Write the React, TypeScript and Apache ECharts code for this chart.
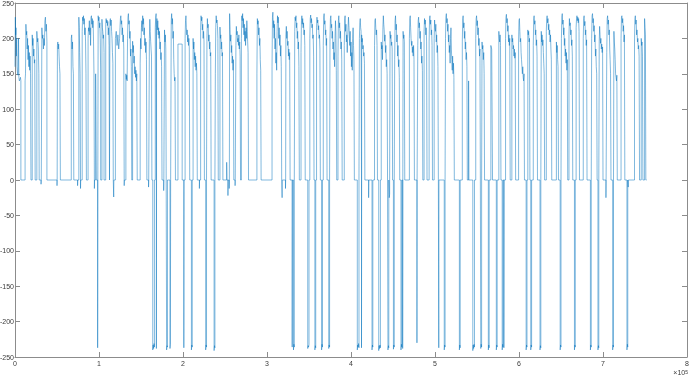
import React, { useEffect, useRef } from "react";
import * as echarts from "echarts";

// x in thousands of samples, y signal value
const seg0: number[][] = [
  [0,160],[0.4,230],[0.8,205],[1.2,215],[1.6,175],[2,200],[2.4,160],[3,150],[3.6,148],[4.2,200],[4.6,145],[5.2,140],[5.8,142],[6.5,145],[7,140],[7,0],
  [12,0],[12,140],[12.5,150],[13,220],[13.5,205],[14,210],[14.5,185],[15,200],[15.5,170],[16,190],[16.5,160],[17,180],[17.5,155],[18,175],[18.5,150],[19,0],
  [20.5,0],[20.5,205],[21,190],[21.5,200],[22,175],[22.5,185],[23,165],[23.5,170],[24,0],
  [26,0],[26,210],[26.6,195],[27.2,200],[27.8,185],[28.4,150],[28.8,0],
  [31,0],[31,-6],[31.3,0],
  [32,0],[32,215],[32.6,200],[33.2,205],[33.8,185],[34.4,200],[35,190],[35.6,225],[36.2,230],[36.8,210],[37.4,220],[38,195],[38,0],
  [50,0],[50,-8],[50.2,0],[50.5,0],[50.5,190],[51,195],[51.5,185],[52,192],[52.5,175],[53,160],[53.5,150],[54,0],
  [67,0],[67,200],[67.5,205],[68,185],[68.5,195],[69,160],[69.5,150],[70,0],
  [74.5,0],[74.5,-8],[74.7,0],[76,0],[76,230],[76.5,215],[77,180],[77.5,150],[78,0],[78,-12],[78.2,0],[80,0],[80,210],[80.5,230],[81,225],[81.5,232],[82,220],[82.5,228],[83,205],[83.5,215],[84,195],[84.5,150],[85,0],
  [87,0],[87,200],[87.5,215],[88,210],[88.5,225],[89,205],[89.5,215],[90,190],[90.5,230],[91,232],[91.5,220],[92,228],[92.5,215],[93,225],[93.5,195],[94,150],[94.5,0],[94.5,-12],[94.7,0],
  [96,0],[96,150],[96.8,150],[96.8,0],[98.4,0],[98.4,-237],[98.6,0],
  [99,0],[99,232],[99.5,225],[100,230],[100.5,215],[101,222],[101.5,200],[102,150],[102,0],
];

const seg1: number[][] = [
  [103.5,0],[103.5,227],[104,215],[104.5,210],[105,200],[105.5,205],[106,180],[106,0],
  [108,0],[108,220],[108.5,228],[109,222],[109.5,226],[110,218],[110.5,224],[111,205],[111.5,215],[112,190],[112.5,0],
  [113,0],[113,224],[113.5,228],[114,218],[114.5,226],[115,210],[115.5,200],[116,180],[116.5,165],[117,0],[117.5,0],[117.5,-24],[117.7,0],
  [119.5,0],[119.5,200],[120.5,210],[121.5,190],[122.5,205],[123.5,185],[124.5,200],[125,215],[125.5,228],[126,232],[126.5,220],[127,225],[127.5,205],[128,215],[128.5,195],[129,205],[129.5,185],[130,0],[130,-8],[130.2,0],
  [132,0],[132,150],[132.5,142],[133,148],[133.5,140],[134,200],[134.5,230],[135,235],[135.5,220],[136,225],[136.5,200],[137,210],[137.5,175],[138,185],[138.5,160],[139,0],
  [140,0],[140,196],[140.5,180],[141,190],[141.5,165],[142,175],[142.5,150],[143,160],[143.5,145],[144,155],[144.5,140],[145,150],[145.5,0],
  [149,0],[149,165],[149.5,200],[150,185],[150.5,215],[151,225],[151.5,210],[152,232],[152.5,220],[153,228],[153.5,205],[154,215],[154.5,190],[155,200],[155.5,180],[156,195],[156.5,170],[157,0],
  [159,0],[159,-10],[159.2,0],
  [160,0],[160,200],[160.5,227],[161,210],[161.5,196],[162,185],[162.5,175],[163,0],
  [164,0],[164,-240],[164.5,-233],[165,-238],[165.5,-231],[166,-236],[166,0],
  [167,0],[167,215],[167.5,230],[168,235],[168.3,0],[168.3,-238],[168.5,0],[168.5,220],[169,228],[169.5,212],[170,225],[170.5,205],[171,215],[171.5,200],[172,210],[172.5,185],[173,195],[173.5,170],[174,180],[174.5,160],[175,0],
  [177,0],[177,-15],[177.2,0],[178,0],[178,212],[178.5,195],[179,205],[179.5,185],[180,0],
  [180.5,0],[180.5,-240],[181,-234],[181.5,-236],[181.5,0],
  [184.5,0],[184.5,-238],[185,-232],[185.3,0],[186,0],[186,225],[186.5,235],[187,220],[187.5,228],[188,200],[188.5,210],[189,170],[189.5,150],[190,140],[190.5,145],[191,0],
  [194,0],[194,192],[199,192],[199,0],
  [201,0],[201,-237],[201.2,0],
];

const seg2: number[][] = [
  [202.5,0],[202.5,200],[203,225],[203.5,232],[204,215],[204.5,205],[205,212],[205.5,195],[206,205],[206.5,190],[207,200],[207.5,185],[208,0],
  [210,0],[210,-240],[210.5,-233],[211,-236],[211,0],
  [212,0],[212,200],[212.5,185],[213,195],[213.5,170],[214,180],[214.5,160],[215,175],[215.5,155],[216,165],[216.5,150],[217,0],
  [219.5,0],[219.5,-12],[219.7,0],
  [221,0],[221,215],[221.5,232],[222,225],[222.5,230],[223,212],[223.5,220],[224,200],[224.5,210],[225,195],[225.5,0],
  [227,0],[227,-240],[227.5,-233],[228,-236],[228,0],[228.5,0],[228.5,200],[229,228],[229.5,215],[230,220],[230.5,196],[231,205],[231.5,185],[232,195],[232.5,175],[233,180],[233.5,0],
  [237,0],[237,-241],[237.5,-234],[238,-237],[238,0],
  [238.5,0],[238.5,150],[239,215],[239.5,232],[240,222],[240.5,226],[241,218],[241.5,200],[242,0],
  [244,0],[244,216],[244.5,200],[245,205],[245.5,185],[246,195],[246.5,175],[247,180],[247.5,0],
  [252,0],[252,25],[252.3,0],[253.5,0],[253.5,-22],[253.7,0],[255,0],[255,-12],[255.2,0],
  [255.5,0],[255.5,235],[256,212],[256.5,196],[257,205],[257.5,180],[258,190],[258.5,165],[259,175],[259.5,155],[260,170],[260.5,0],
  [262,0],[262,-8],[262.2,0],
  [263,0],[263,190],[263.5,217],[264,205],[264.5,210],[265,195],[265.5,200],[266,190],[266.5,205],[267,185],[267.5,195],[268,175],[268.5,0],
  [269.5,0],[269.5,200],[270,232],[270.5,225],[271,235],[271.5,215],[272,228],[272.5,205],[273,220],[273.5,196],[274,210],[274.5,190],[275,215],[275.5,200],[276,225],[276.5,210],[277,195],[277.5,180],[278,0],
  [288,0],[288,150],[288.5,228],[289,220],[289.5,225],[290,205],[290.5,215],[291,190],[291.5,200],[292,170],[292.5,155],[293,0],
];

const seg3: number[][] = [
  [306,0],[306,160],[306.5,230],[307,237],[307.5,215],[308,225],[308.5,200],[309,220],[309.5,185],[310,200],[310.5,165],[311,180],[311.5,155],[312,210],[312.5,232],[313,222],[313.5,230],[314,200],[314.5,215],[315,190],[315.5,205],[316,175],[316.5,190],[317,160],[317.5,0],
  [318,0],[318,-25],[318.2,0],
  [322,0],[322,-12],[322.2,0],[322.5,0],[322.5,205],[323,217],[323.5,200],[324,210],[324.5,190],[325,196],[325.5,175],[326,185],[326.5,170],[327,180],[327.5,0],
  [330,0],[330,-236],[330.2,0],[331.5,0],[331.5,-240],[332,-232],[332.5,-236],[332.5,0],
  [333,0],[333,210],[333.5,230],[334,225],[334.5,232],[335,215],[335.5,222],[336,200],[336.5,210],[337,185],[337.5,195],[338,160],[338.5,0],
  [340.5,0],[340.5,180],[341,225],[341.5,232],[342,220],[342.5,228],[343,215],[343.5,222],[344,205],[344.5,212],[345,190],[345.5,0],
  [348.5,0],[348.5,-238],[349,-234],[349.5,-236],[350,-232],[350,0],
  [351,0],[351,200],[351.5,228],[352,233],[352.5,222],[353,228],[353.5,215],[354,220],[354.5,200],[355,205],[355.5,175],[356,0],
  [357,0],[357,-240],[357.5,-234],[358,-237],[358,0],
  [359,0],[359,215],[359.5,230],[360,222],[360.5,226],[361,212],[361.5,218],[362,200],[362.5,205],[363,185],[363.5,0],
  [365,0],[365,-240],[365.5,-232],[366,-236],[366,0],
  [367,0],[367,190],[367.5,230],[368,235],[368.5,220],[369,225],[369.5,205],[370,212],[370.5,190],[371,200],[371.5,0],
  [373.5,0],[373.5,-238],[374,-233],[374.5,-236],[374.5,0],
  [375,0],[375,200],[375.5,228],[376,232],[376.5,215],[377,220],[377.5,200],[378,210],[378.5,185],[379,195],[379.5,170],[380,180],[380.5,160],[381,200],[381.5,225],[382,210],[382.5,155],[383,0],
  [384.5,0],[384.5,175],[385,225],[385.5,232],[386,215],[386.5,222],[387,200],[387.5,210],[388,185],[388.5,195],[389,170],[389.5,0],
  [392,0],[392,190],[392.5,228],[393,232],[393.5,210],[394,220],[394.5,195],[395,205],[395.5,180],[396,200],[396.5,215],[397,230],[397.5,218],[398,205],[398.5,190],[399,210],[399.5,175],[400,195],[400.5,160],[401,180],[401.5,155],[402,200],[402.5,215],[403,190],[403.5,170],[404,0],
];

const seg4: number[][] = [
  [407.5,0],[407.5,-240],[408,-233],[408.5,-236],[409,-231],[409.5,-237],[409.5,0],
  [410,0],[410,200],[410.5,222],[411,228],[411.5,215],[412,210],[412.5,0],[412.5,-237],[412.7,0],[412.7,205],[413,195],[413.5,200],[414,185],[414.5,190],[415,175],[415.5,180],[416,165],[416.5,0],
  [421,0],[421,-25],[421.2,0],
  [425,0],[425,-240],[425.5,-233],[426,-236],[426,0],
  [428,0],[428,190],[428.5,225],[429,228],[429.5,215],[430,205],[430.5,212],[431,190],[431.5,0],
  [433,0],[433,-241],[433.5,-234],[434,-238],[434.5,-233],[435,-237],[435,0],
  [436,0],[436,195],[436.5,185],[437,190],[437.5,170],[438,215],[438.5,232],[439,220],[439.5,212],[440,196],[440.5,205],[441,180],[441.5,190],[442,160],[442.5,170],[443,150],[443.5,0],
  [444,0],[444,-240],[444.5,-234],[445,-237],[445,0],[445.5,0],[445.5,-25],[446,-20],[446,0],
  [446.5,0],[446.5,210],[447,200],[447.5,205],[448,190],[448.5,195],[449,185],[449.5,0],
  [450.5,0],[450.5,-239],[451,-233],[451.5,-236],[451.5,0],
  [452,0],[452,170],[452.5,225],[453,232],[453.5,212],[454,220],[454.5,195],[455,205],[455.5,175],[456,190],[456.5,160],[457,170],[457.5,145],[458,0],
  [459.5,0],[459.5,-240],[460,-232],[460.5,-236],[460.5,0],[461.5,0],[461.5,-238],[461.7,0],
  [462,0],[462,210],[462.5,200],[463,205],[463.5,195],[464,0],
  [469.5,0],[469.5,200],[470,228],[470.5,232],[471,215],[471.5,200],[472,190],[472.5,196],[473,180],[473.5,188],[474,175],[474.5,190],[475,170],[475.5,0],
  [478.5,0],[478.5,-230],[478.7,0],
  [479.5,0],[479.5,190],[480,225],[480.5,230],[481,215],[481.5,222],[482,200],[482.5,210],[483,185],[483.5,195],[484,165],[484.5,175],[485,155],[485.5,0],
  [487,0],[487,210],[487.5,228],[488,220],[488.5,226],[489,205],[489.5,215],[490,195],[490.5,0],
  [493,0],[493,195],[493.5,228],[494,232],[494.5,220],[495,226],[495.5,205],[496,212],[496.5,190],[497,0],
  [499,0],[499,200],[499.5,226],[500,215],[500.5,210],[501,220],[501.5,195],[502,205],[502.5,180],[503,190],[503.5,160],[504,0],[504.5,0],[504.5,-237],[504.7,0],
];

const seg5: number[][] = [
  [511,0],[511,-240],[511.5,-233],[512,-236],[512,0],
  [512.5,0],[512.5,200],[513,230],[513.5,235],[514,222],[514.5,228],[515,210],[515.5,220],[516,195],[516.5,205],[517,180],[517.5,190],[518,165],[518.5,200],[519,215],[519.5,185],[520,170],[520.5,155],[521,175],[521.5,150],[522,165],[522.5,145],[523,0],
  [529,0],[529,-240],[529.5,-233],[530,-237],[530,0],
  [532.5,0],[532.5,195],[533,228],[533.5,232],[534,215],[534.5,222],[535,200],[535.5,210],[536,185],[536.5,195],[537,170],[537.5,180],[538,160],[538.5,0],
  [540,0],[540,140],[540.3,0],
  [545,0],[545,-241],[545.5,-233],[546,-238],[546.5,-232],[547,-236],[547,0],
  [548.5,0],[548.5,200],[549,228],[549.5,232],[550,218],[550.5,225],[551,205],[551.5,215],[552,190],[552.5,200],[553,175],[553.5,185],[554,0],
  [554.5,0],[554.5,-238],[555,-232],[555.5,-236],[555.5,0],
  [556,0],[556,195],[556.5,185],[557,190],[557.5,170],[558,180],[558.5,150],[559,0],
  [563.5,0],[563.5,-240],[564,-233],[564.5,-237],[564.5,0],
  [566.5,0],[566.5,190],[567.5,185],[568.5,0],
  [573,0],[573,-240],[573.5,-233],[574,-236],[574,0],
  [576,0],[576,210],[576.5,200],[577,195],[577.5,205],[578,190],[578.5,0],
  [580,0],[580,-240],[580.5,-232],[581,-236],[581,0],[582,0],[582,-237],[582.2,0],
  [584,0],[584,200],[584.5,230],[585,234],[585.5,222],[586,228],[586.5,210],[587,218],[587.5,195],[588,205],[588.5,190],[589,200],[589.5,0],
  [591.5,0],[591.5,205],[592,195],[592.5,200],[593,185],[593.5,190],[594,175],[594.5,185],[595,172],[595.5,180],[596,0],
  [599.5,0],[599.5,195],[600,225],[600.5,228],[601,210],[601.5,195],[602,200],[602.5,180],[603,170],[603.5,160],[604,150],[604.5,160],[605,145],[605.5,140],[606,150],[606.5,0],
];

const seg6: number[][] = [
  [608.5,0],[608.5,-240],[609,-233],[609.5,-236],[609.5,0],
  [610.5,0],[610.5,212],[611,205],[611.5,210],[612,195],[612.5,200],[613,0],
  [614,0],[614,-240],[614.5,-233],[615,-236],[615,0],
  [617,0],[617,190],[617.5,228],[618,232],[618.5,220],[619,225],[619.5,205],[620,212],[620.5,190],[621,198],[621.5,175],[622,0],
  [625,0],[625,-240],[625.5,-234],[626,-237],[626,0],
  [626.5,0],[626.5,210],[627,195],[627.5,205],[628,190],[628.5,198],[629,180],[629.5,165],[630,150],[630.5,0],
  [632.5,0],[632.5,210],[633,228],[633.5,232],[634,222],[634.5,228],[635,212],[635.5,220],[636,205],[636.5,212],[637,195],[637.5,205],[638,185],[638.5,170],[639,0],
  [644.5,0],[644.5,195],[645,180],[645.5,190],[646,170],[646.5,160],[647,0],
  [649,0],[649,-240],[649.5,-233],[650,-236],[650,0],
  [650.5,0],[650.5,200],[651,230],[651.5,235],[652,220],[652.5,226],[653,205],[653.5,215],[654,190],[654.5,200],[655,175],[655.5,185],[656,165],[656.5,180],[657,155],[657.5,170],[658,0],
  [659.5,0],[659.5,205],[660,228],[660.5,218],[661,222],[661.5,205],[662,212],[662.5,190],[663,198],[663.5,175],[664,0],
  [666,0],[666,-240],[666.5,-233],[667,-236],[667,0],
  [668,0],[668,215],[668.5,228],[669,232],[669.5,225],[670,230],[670.5,222],[671,228],[671.5,210],[672,0],
  [676.5,0],[676.5,200],[677,228],[677.5,232],[678,218],[678.5,224],[679,205],[679.5,212],[680,190],[680.5,198],[681,0],
  [685,0],[685,-240],[685.5,-233],[686,-236],[686,0],
  [686.5,0],[686.5,200],[687,232],[687.5,235],[688,222],[688.5,228],[689,210],[689.5,218],[690,195],[690.5,205],[691,175],[691.5,185],[692,160],[692.5,150],[693,0],
  [694,0],[694,-240],[694.5,-234],[695,-237],[695,0],
  [695.5,0],[695.5,195],[696,217],[696.5,205],[697,193],[697.5,200],[698,185],[698.5,192],[699,180],[699.5,188],[700,0],
];

const seg7: number[][] = [
  [703.5,0],[703.5,-25],[703.7,0],
  [704.5,0],[704.5,180],[705,228],[705.5,232],[706,220],[706.5,226],[707,205],[707.5,212],[708,185],[708.5,170],[709,150],[709.5,0],
  [711.5,0],[711.5,-240],[712,-233],[712.5,-236],[712.5,0],
  [713,0],[713,210],[713.5,195],[714,185],[714.5,170],[715,150],[715.5,145],[716,140],[716.5,148],[717,0],
  [721.5,0],[721.5,200],[722,230],[722.5,232],[723,222],[723.5,228],[724,210],[724.5,218],[725,195],[725.5,205],[726,0],
  [728.5,0],[728.5,-240],[729,-232],[729.5,-236],[729.5,0],[730,0],[730,-10],[730.2,0],
  [737.5,0],[737.5,195],[738,228],[738.5,232],[739,220],[739.5,226],[740,205],[740.5,212],[741,195],[741.5,200],[742,185],[742.5,190],[743,175],[743.5,0],
  [745.5,0],[745.5,200],[746,190],[746.5,195],[747,175],[747.5,0],[749.5,0],[749.5,228],[750,215],[750.5,205],[751,0],[752,0],
];

const X_MIN = 0;
const X_MAX = 800;
const X_STEP = 100;
const Y_MIN = -250;
const Y_MAX = 250;
const Y_STEP = 50;
const EXPONENT_BASE = "×10";
const EXPONENT = "5";

export default function App() {
  const ref = useRef<HTMLDivElement>(null);
  useEffect(() => {
    if (!ref.current) return;
    const chart = echarts.init(ref.current, null, { renderer: "svg" });
    const data = [...seg0, ...seg1, ...seg2, ...seg3, ...seg4, ...seg5, ...seg6, ...seg7];
    const lineCol = "#8c8c8c";
    const font = "'Liberation Sans', Arial, sans-serif";
    const axisLine = { show: true, onZero: false, lineStyle: { color: lineCol, width: 1 } };
    const axisTick = { show: true, inside: true, length: 5, lineStyle: { color: lineCol, width: 1 } };
    chart.setOption({
      animation: false,
      grid: { left: 15, right: 3, top: 3, bottom: 19, containLabel: false, outerBoundsMode: "none" },
      xAxis: [
        {
          type: "value", min: X_MIN, max: X_MAX, interval: X_STEP, position: "bottom",
          axisLine, axisTick,
          axisLabel: { formatter: (v: number) => String(v / 100), fontSize: 7, color: "#3a3a3a", margin: 3, fontFamily: font },
          splitLine: { show: false },
        },
        {
          type: "value", min: X_MIN, max: X_MAX, interval: X_STEP, position: "top",
          axisLine, axisTick, axisLabel: { show: false }, splitLine: { show: false },
        },
      ],
      yAxis: [
        {
          type: "value", min: Y_MIN, max: Y_MAX, interval: Y_STEP, position: "left",
          axisLine, axisTick,
          axisLabel: { fontSize: 7, color: "#3a3a3a", margin: 1, fontFamily: font },
          splitLine: { show: false },
        },
        {
          type: "value", min: Y_MIN, max: Y_MAX, interval: Y_STEP, position: "right",
          axisLine, axisTick, axisLabel: { show: false }, splitLine: { show: false },
        },
      ],
      series: [
        {
          type: "line",
          xAxisIndex: 0,
          yAxisIndex: 0,
          data,
          symbol: "none",
          showSymbol: false,
          silent: true,
          lineStyle: { color: "#0072BD", width: 0.5 },
        },
      ],
      graphic: [
        {
          type: "text", right: 2, bottom: 0,
          style: {
            text: EXPONENT_BASE + "{sup|" + EXPONENT + "}",
            fontSize: 7, fill: "#3a3a3a", fontFamily: font,
            rich: { sup: { fontSize: 5, verticalAlign: "top", fill: "#3a3a3a", fontFamily: font } },
          },
        },
      ],
    });
    return () => chart.dispose();
  }, []);
  return <div ref={ref} style={{ position: "fixed", left: 0, top: 0, width: 690, height: 376 }} />;
}
